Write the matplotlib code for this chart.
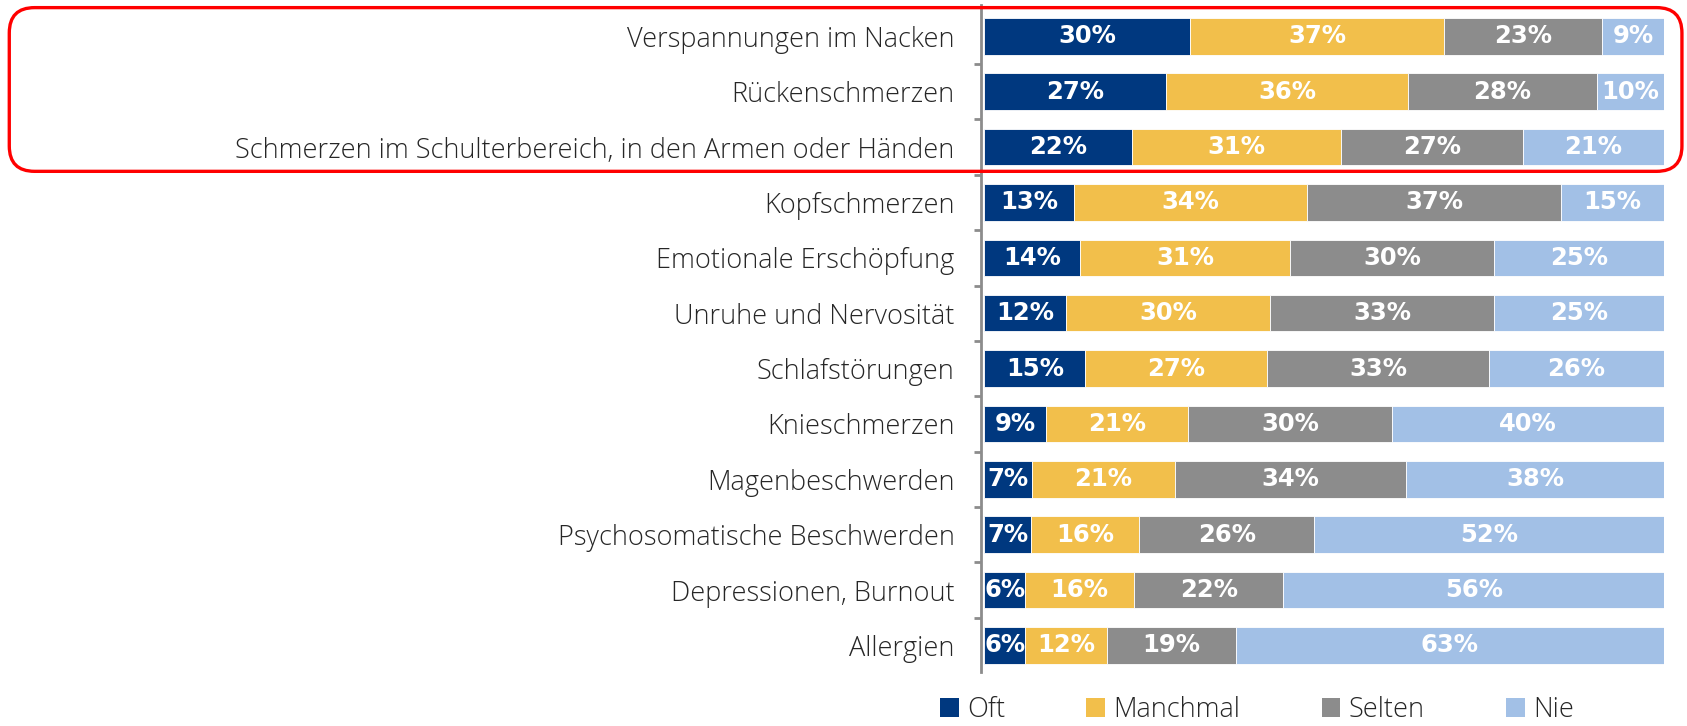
import matplotlib
matplotlib.use("Agg")
import matplotlib.pyplot as plt
from matplotlib.patches import FancyBboxPatch, Patch
import numpy as np

categories = [
    "Verspannungen im Nacken",
    "Rückenschmerzen",
    "Schmerzen im Schulterbereich, in den Armen oder Händen",
    "Kopfschmerzen",
    "Emotionale Erschöpfung",
    "Unruhe und Nervosität",
    "Schlafstörungen",
    "Knieschmerzen",
    "Magenbeschwerden",
    "Psychosomatische Beschwerden",
    "Depressionen, Burnout",
    "Allergien",
]
oft = [30, 27, 22, 13, 14, 12, 15, 9, 7, 7, 6, 6]
manchmal = [37, 36, 31, 34, 31, 30, 27, 21, 21, 16, 16, 12]
selten = [23, 28, 27, 37, 30, 33, 33, 30, 34, 26, 22, 19]
nie = [9, 10, 21, 15, 25, 25, 26, 40, 38, 52, 56, 63]

series_names = ["Oft", "Manchmal", "Selten", "Nie"]
colors = ["#00387f", "#f2bf4b", "#8c8c8c", "#a2c0e6"]

label_font = "Open Sans"

fig = plt.figure(figsize=(16.87, 7.26), dpi=100)
ax = fig.add_axes([0.5815, 0.0744, 0.4049, 0.9182])

data = np.array([oft, manchmal, selten, nie], dtype=float)
totals = data.sum(axis=0)
shares = data / totals * 100  # bars fill the whole row

y = np.arange(len(categories))
left = np.zeros(len(categories))
for k in range(4):
    ax.barh(y, shares[k], left=left, height=0.66, color=colors[k],
            edgecolor="white", linewidth=0.6)
    for i in range(len(categories)):
        ax.text(left[i] + shares[k][i] / 2, y[i], f"{int(data[k][i])}%",
                ha="center", va="center", color="white", fontsize=17.5,
                fontweight="bold", family="DejaVu Sans")
    left += shares[k]

ax.set_xlim(-0.5, 100)
ax.set_ylim(11.48, -0.56)
ax.set_xticks([])
ax.set_yticks(y)
ax.set_yticklabels(categories, fontsize=19.5, color="#262626",
                   family=label_font, fontweight="light")
ax.set_yticks(np.arange(0.5, len(categories) - 1, 1), minor=True)
ax.tick_params(axis="y", which="major", length=0, pad=19)
ax.tick_params(axis="y", which="minor", length=5, width=2, color="#8c8c8c",
               direction="out")
for s in ["top", "right", "bottom"]:
    ax.spines[s].set_visible(False)
ax.spines["left"].set_color("#8c8c8c")
ax.spines["left"].set_linewidth(2)

# red highlight around the top three rows
box = FancyBboxPatch((0.0055, 0.764), 0.9915, 0.2255,
                     boxstyle="round,pad=0,rounding_size=0.015",
                     transform=fig.transFigure, fill=False,
                     edgecolor="#ff0000", linewidth=2.4,
                     mutation_aspect=1687 / 726)
fig.patches.append(box)

handles = [Patch(facecolor=c, edgecolor="none") for c in colors]
leg = fig.legend(handles, series_names, loc="center", ncol=4,
                 bbox_to_anchor=(0.745, 0.022), frameon=False,
                 handlelength=0.7, handleheight=0.7, handletextpad=0.3,
                 columnspacing=3.0,
                 prop={"family": label_font, "size": 19.5, "weight": "light"})
for t in leg.get_texts():
    t.set_color("#262626")

fig.savefig("out.png", dpi=100)
